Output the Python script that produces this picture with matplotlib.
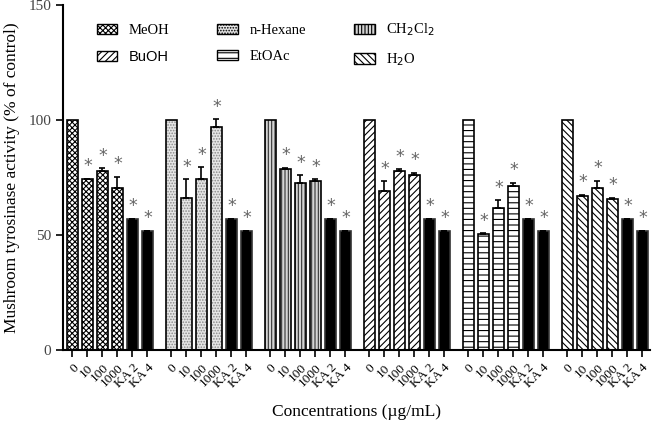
import matplotlib.pyplot as plt
from matplotlib.patches import Patch
import matplotlib as mpl

plt.rcParams['font.family'] = ['Liberation Serif', 'DejaVu Serif']
mpl.rcParams['hatch.linewidth'] = 0.8

# dados
extratos = ["MeOH", "n-Hexane", "CH$_2$Cl$_2$", "BuOH", "EtOAc", "H$_2$O"]
rotulos = ["0", "10", "100", "1000", "KA 2", "KA 4"]
valores = [
    [100, 74.3, 78.0, 70.3, 56.8, 51.7],
    [100, 66.0, 74.6, 97.0, 56.8, 51.7],
    [100, 78.8, 72.8, 73.5, 56.8, 51.7],
    [100, 69.3, 78.0, 76.0, 56.8, 51.7],
    [100, 50.4, 61.9, 71.3, 56.8, 51.7],
    [100, 67.1, 70.3, 65.8, 56.8, 51.7],
]
erros = [
    [0, 0.3, 1.0, 5.0, 0.3, 0.3],
    [0, 8.3, 5.0, 3.3, 0.3, 0.3],
    [0, 0.5, 3.3, 0.8, 0.3, 0.3],
    [0, 4.2, 0.6, 1.2, 0.3, 0.3],
    [0, 0.5, 3.3, 1.5, 0.3, 0.3],
    [0, 0.5, 3.3, 0.5, 0.3, 0.3],
]
hachuras = ["xxxxxx", "......", "|||||", "/////", "---", "\\\\\\\\\\"]
cores = ["white", "#e6e6e6", "#d4d4d4", "white", "white", "white"]
cor_hachura = ["black", "#888888", "#333333", "black", "black", "black"]

fig = plt.figure(figsize=(6.55, 4.28), dpi=100)
ax = fig.add_axes([0.096, 0.182, 0.896, 0.806])

largura = 0.73
passo = 6.6
posicoes = []
for g in range(6):
    for i in range(6):
        x = g * passo + i
        posicoes.append(x)
        v = valores[g][i]
        e = erros[g][i]
        if i < 4:
            # preenchimento com hachura colorida e contorno preto por cima
            ax.bar(x, v, largura, facecolor=cores[g], edgecolor=cor_hachura[g],
                   hatch=hachuras[g], linewidth=0, zorder=2)
            ax.bar(x, v, largura, fill=False, edgecolor="black",
                   linewidth=1.2, zorder=2.5)
        else:
            ax.bar(x, v, largura, facecolor="black", edgecolor="#333333",
                   linewidth=1.2, zorder=2)
        if e > 0:
            ax.errorbar(x, v, yerr=[[0], [e]], fmt="none", ecolor="black",
                        elinewidth=1.2, capsize=2.5, capthick=1.2, zorder=3)
        if i > 0:
            ax.text(x + 0.05, v + e + 1.5, "*", ha="center", va="bottom",
                    fontsize=12.5, color="#666666", family="DejaVu Sans")

ax.set_xticks(posicoes)
ax.set_xticklabels(rotulos * 6, rotation=45, ha="right",
                   rotation_mode="anchor", fontsize=9.5)
ax.set_xlim(-0.63, 5 * passo + 5 + 0.5)
ax.set_ylim(0, 150)
ax.set_yticks([0, 50, 100, 150])
ax.tick_params(axis="y", labelsize=11, labelcolor="#444444", width=1.2, length=5)
ax.tick_params(axis="x", width=1.2, length=5)
for lado in ["top", "right"]:
    ax.spines[lado].set_visible(False)
for lado in ["left", "bottom"]:
    ax.spines[lado].set_linewidth(1.5)

ax.set_ylabel("Mushroom tyrosinase activity (% of control)", fontsize=12.5, labelpad=6)
ax.set_xlabel("Concentrations (µg/mL)", fontsize=12.5, va="center")
ax.xaxis.set_label_coords(0.5, -0.18)

ordem = [0, 3, 1, 4, 2, 5]
alças = [Patch(facecolor=cores[g], edgecolor="black", hatch=hachuras[g],
               label=extratos[g]) for g in ordem]
leg = ax.legend(handles=alças, ncol=3, frameon=False, loc="upper left",
                bbox_to_anchor=(0.035, 0.99), fontsize=10.5, columnspacing=3.3,
                handlelength=1.4, handleheight=0.7, labelspacing=0.9)
leg.get_texts()[1].set_family("Liberation Sans")

fig.savefig("out.png", dpi=100)
